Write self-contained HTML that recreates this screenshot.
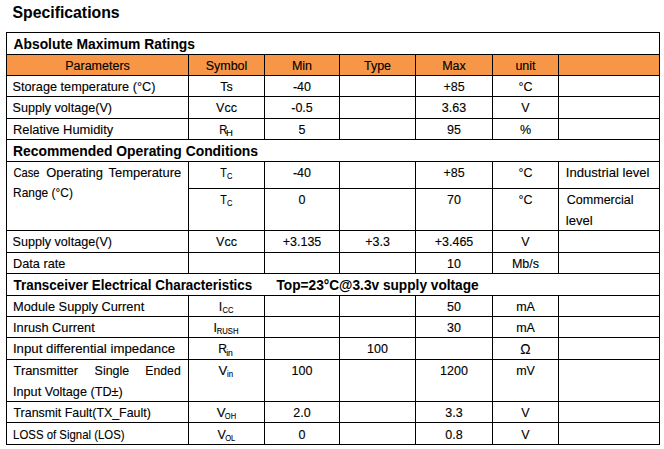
<!DOCTYPE html><html><head><meta charset="utf-8"><style>html,body{margin:0;padding:0;background:#fff;width:664px;height:449px;overflow:hidden}svg{display:block}text{font-family:"Liberation Sans",sans-serif;fill:#000}</style></head><body>
<svg width="664" height="449" viewBox="0 0 664 449">
<rect x="6" y="54" width="654" height="21" fill="#F79646"/>
<rect x="6" y="32" width="654" height="1" fill="#000"/>
<rect x="6" y="54" width="654" height="1" fill="#000"/>
<rect x="6" y="75" width="654" height="1" fill="#000"/>
<rect x="6" y="96" width="654" height="1" fill="#000"/>
<rect x="6" y="118" width="654" height="1" fill="#000"/>
<rect x="6" y="139" width="654" height="1" fill="#000"/>
<rect x="6" y="161" width="654" height="1" fill="#000"/>
<rect x="6" y="230" width="654" height="1" fill="#000"/>
<rect x="6" y="252" width="654" height="1" fill="#000"/>
<rect x="6" y="273" width="654" height="1" fill="#000"/>
<rect x="6" y="295" width="654" height="1" fill="#000"/>
<rect x="6" y="316" width="654" height="1" fill="#000"/>
<rect x="6" y="337" width="654" height="1" fill="#000"/>
<rect x="6" y="359" width="654" height="1" fill="#000"/>
<rect x="6" y="401" width="654" height="1" fill="#000"/>
<rect x="6" y="422" width="654" height="1" fill="#000"/>
<rect x="6" y="444" width="654" height="1" fill="#000"/>
<rect x="188" y="188" width="472" height="1" fill="#000"/>
<rect x="6" y="32" width="1" height="413" fill="#000"/>
<rect x="659" y="32" width="1" height="413" fill="#000"/>
<rect x="188" y="54" width="1" height="86" fill="#000"/>
<rect x="264" y="54" width="1" height="86" fill="#000"/>
<rect x="339" y="54" width="1" height="86" fill="#000"/>
<rect x="415" y="54" width="1" height="86" fill="#000"/>
<rect x="492" y="54" width="1" height="86" fill="#000"/>
<rect x="558" y="54" width="1" height="86" fill="#000"/>
<rect x="188" y="161" width="1" height="113" fill="#000"/>
<rect x="264" y="161" width="1" height="113" fill="#000"/>
<rect x="339" y="161" width="1" height="113" fill="#000"/>
<rect x="415" y="161" width="1" height="113" fill="#000"/>
<rect x="492" y="161" width="1" height="113" fill="#000"/>
<rect x="558" y="161" width="1" height="113" fill="#000"/>
<rect x="188" y="295" width="1" height="150" fill="#000"/>
<rect x="264" y="295" width="1" height="150" fill="#000"/>
<rect x="339" y="295" width="1" height="150" fill="#000"/>
<rect x="415" y="295" width="1" height="150" fill="#000"/>
<rect x="492" y="295" width="1" height="150" fill="#000"/>
<rect x="558" y="295" width="1" height="150" fill="#000"/>
<text transform="translate(12.50 18) scale(1.0000 1)" font-size="15.8" font-weight="bold" stroke="#000" stroke-width="0.05" xml:space="preserve">Specifications</text>
<text transform="translate(13.50 49) scale(1.0041 1)" font-size="13.8" font-weight="bold" stroke="#000" stroke-width="0.05" xml:space="preserve">Absolute Maximum Ratings</text>
<text transform="translate(12.48 91) scale(1.0180 1)" font-size="12.5" stroke="#000" stroke-width="0.12" xml:space="preserve">Storage temperature (°C)</text>
<text transform="translate(12.49 112) scale(1.0103 1)" font-size="12.5" stroke="#000" stroke-width="0.12" xml:space="preserve">Supply voltage(V)</text>
<text transform="translate(12.97 134) scale(1.0323 1)" font-size="12.5" stroke="#000" stroke-width="0.12" xml:space="preserve">Relative Humidity</text>
<text transform="translate(219.30 134) scale(0.9000 1)" font-size="12.5" stroke="#000" stroke-width="0.12" xml:space="preserve">R</text>
<text transform="translate(226.02 136) scale(1.0800 1)" font-size="8.8" stroke="#000" stroke-width="0.12" xml:space="preserve">H</text>
<text transform="translate(12.99 156) scale(1.0062 1)" font-size="13.8" font-weight="bold" stroke="#000" stroke-width="0.05" xml:space="preserve">Recommended Operating Conditions</text>
<text transform="translate(13.50 177) scale(0.8931 1)" font-size="12.5" stroke="#000" stroke-width="0.12" xml:space="preserve">Case</text>
<text transform="translate(46.25 177) scale(1.0343 1)" font-size="12.5" stroke="#000" stroke-width="0.12" xml:space="preserve">Operating</text>
<text transform="translate(108.50 177) scale(1.0357 1)" font-size="12.5" stroke="#000" stroke-width="0.12" xml:space="preserve">Temperature</text>
<text transform="translate(13.05 197) scale(0.9549 1)" font-size="12.5" stroke="#000" stroke-width="0.12" xml:space="preserve">Range (°C)</text>
<text transform="translate(220.20 177) scale(0.8625 1)" font-size="12.5" stroke="#000" stroke-width="0.12" xml:space="preserve">T</text>
<text transform="translate(227.10 179) scale(0.8500 1)" font-size="8.8" stroke="#000" stroke-width="0.12" xml:space="preserve">C</text>
<text transform="translate(565.75 177) scale(1.0487 1)" font-size="12.5" stroke="#000" stroke-width="0.12" xml:space="preserve">Industrial level</text>
<text transform="translate(220.20 204) scale(0.8625 1)" font-size="12.5" stroke="#000" stroke-width="0.12" xml:space="preserve">T</text>
<text transform="translate(227.10 206) scale(0.8500 1)" font-size="8.8" stroke="#000" stroke-width="0.12" xml:space="preserve">C</text>
<text transform="translate(566.80 204) scale(1.0030 1)" font-size="12.5" stroke="#000" stroke-width="0.12" xml:space="preserve">Commercial</text>
<text transform="translate(565.75 225) scale(1.0500 1)" font-size="12.5" stroke="#000" stroke-width="0.12" xml:space="preserve">level</text>
<text transform="translate(12.49 246) scale(1.0103 1)" font-size="12.5" stroke="#000" stroke-width="0.12" xml:space="preserve">Supply voltage(V)</text>
<text transform="translate(12.98 268) scale(1.0200 1)" font-size="12.5" stroke="#000" stroke-width="0.12" xml:space="preserve">Data rate</text>
<text transform="translate(13.50 290) scale(0.9731 1)" font-size="13.8" font-weight="bold" stroke="#000" stroke-width="0.05" xml:space="preserve">Transceiver Electrical Characteristics</text>
<text transform="translate(276.50 290) scale(0.9926 1)" font-size="13.8" font-weight="bold" stroke="#000" stroke-width="0.05" xml:space="preserve">Top=23°C@3.3v supply voltage</text>
<text transform="translate(12.97 311) scale(1.0283 1)" font-size="12.5" stroke="#000" stroke-width="0.12" xml:space="preserve">Module Supply Current</text>
<text transform="translate(218.80 311) scale(1.0000 1)" font-size="12.5" stroke="#000" stroke-width="0.12" xml:space="preserve">I</text>
<text transform="translate(222.50 313) scale(0.8583 1)" font-size="8.8" stroke="#000" stroke-width="0.12" xml:space="preserve">CC</text>
<text transform="translate(12.97 332) scale(1.0253 1)" font-size="12.5" stroke="#000" stroke-width="0.12" xml:space="preserve">Inrush Current</text>
<text transform="translate(213.50 332) scale(1.0000 1)" font-size="12.5" stroke="#000" stroke-width="0.12" xml:space="preserve">I</text>
<text transform="translate(216.73 334) scale(0.8739 1)" font-size="8.8" stroke="#000" stroke-width="0.12" xml:space="preserve">RUSH</text>
<text transform="translate(12.94 353) scale(1.0592 1)" font-size="12.5" stroke="#000" stroke-width="0.12" xml:space="preserve">Input differential impedance</text>
<text transform="translate(218.23 353) scale(0.9714 1)" font-size="12.5" stroke="#000" stroke-width="0.12" xml:space="preserve">R</text>
<text transform="translate(226.20 356) scale(0.9714 1)" font-size="8.8" stroke="#000" stroke-width="0.12" xml:space="preserve">in</text>
<text transform="translate(13.50 375) scale(1.0317 1)" font-size="12.5" stroke="#000" stroke-width="0.12" xml:space="preserve">Transmitter</text>
<text transform="translate(94.60 375) scale(0.9970 1)" font-size="12.5" stroke="#000" stroke-width="0.12" xml:space="preserve">Single</text>
<text transform="translate(145.27 375) scale(0.9814 1)" font-size="12.5" stroke="#000" stroke-width="0.12" xml:space="preserve">Ended</text>
<text transform="translate(218.50 375) scale(1.0625 1)" font-size="12.5" stroke="#000" stroke-width="0.12" xml:space="preserve">V</text>
<text transform="translate(227.00 377) scale(0.8857 1)" font-size="8.8" stroke="#000" stroke-width="0.12" xml:space="preserve">in</text>
<text transform="translate(12.99 396) scale(1.0140 1)" font-size="12.5" stroke="#000" stroke-width="0.12" xml:space="preserve">Input Voltage (TD±)</text>
<text transform="translate(13.50 417) scale(0.9935 1)" font-size="12.5" stroke="#000" stroke-width="0.12" xml:space="preserve">Transmit Fault(TX_Fault)</text>
<text transform="translate(216.70 417) scale(1.0625 1)" font-size="12.5" stroke="#000" stroke-width="0.12" xml:space="preserve">V</text>
<text transform="translate(224.80 419) scale(0.8538 1)" font-size="8.8" stroke="#000" stroke-width="0.12" xml:space="preserve">OH</text>
<text transform="translate(13.09 439) scale(0.9124 1)" font-size="12.5" stroke="#000" stroke-width="0.12" xml:space="preserve">LOSS of Signal (LOS)</text>
<text transform="translate(217.60 439) scale(1.0000 1)" font-size="12.5" stroke="#000" stroke-width="0.12" xml:space="preserve">V</text>
<text transform="translate(225.20 441) scale(0.8583 1)" font-size="8.8" stroke="#000" stroke-width="0.12" xml:space="preserve">OL</text>
<text x="97.5" y="70" font-size="12.5" text-anchor="middle" stroke="#000" stroke-width="0.12">Parameters</text>
<text x="226.5" y="70" font-size="12.5" text-anchor="middle" stroke="#000" stroke-width="0.12">Symbol</text>
<text x="302.0" y="70" font-size="12.5" text-anchor="middle" stroke="#000" stroke-width="0.12">Min</text>
<text x="377.5" y="70" font-size="12.5" text-anchor="middle" stroke="#000" stroke-width="0.12">Type</text>
<text x="454.0" y="70" font-size="12.5" text-anchor="middle" stroke="#000" stroke-width="0.12">Max</text>
<text x="525.5" y="70" font-size="12.5" text-anchor="middle" stroke="#000" stroke-width="0.12">unit</text>
<text x="226.5" y="91" font-size="12.5" text-anchor="middle" stroke="#000" stroke-width="0.12">Ts</text>
<text x="302.0" y="91" font-size="12.5" text-anchor="middle" stroke="#000" stroke-width="0.12">-40</text>
<text x="454.0" y="91" font-size="12.5" text-anchor="middle" stroke="#000" stroke-width="0.12">+85</text>
<text x="525.5" y="91" font-size="12.5" text-anchor="middle" stroke="#000" stroke-width="0.12">°C</text>
<text x="226.5" y="112" font-size="12.5" text-anchor="middle" stroke="#000" stroke-width="0.12">Vcc</text>
<text x="302.0" y="112" font-size="12.5" text-anchor="middle" stroke="#000" stroke-width="0.12">-0.5</text>
<text x="454.0" y="112" font-size="12.5" text-anchor="middle" stroke="#000" stroke-width="0.12">3.63</text>
<text x="525.5" y="112" font-size="12.5" text-anchor="middle" stroke="#000" stroke-width="0.12">V</text>
<text x="302.0" y="134" font-size="12.5" text-anchor="middle" stroke="#000" stroke-width="0.12">5</text>
<text x="454.0" y="134" font-size="12.5" text-anchor="middle" stroke="#000" stroke-width="0.12">95</text>
<text x="525.5" y="134" font-size="12.5" text-anchor="middle" stroke="#000" stroke-width="0.12">%</text>
<text x="302.0" y="177" font-size="12.5" text-anchor="middle" stroke="#000" stroke-width="0.12">-40</text>
<text x="454.0" y="177" font-size="12.5" text-anchor="middle" stroke="#000" stroke-width="0.12">+85</text>
<text x="525.5" y="177" font-size="12.5" text-anchor="middle" stroke="#000" stroke-width="0.12">°C</text>
<text x="302.0" y="204" font-size="12.5" text-anchor="middle" stroke="#000" stroke-width="0.12">0</text>
<text x="454.0" y="204" font-size="12.5" text-anchor="middle" stroke="#000" stroke-width="0.12">70</text>
<text x="525.5" y="204" font-size="12.5" text-anchor="middle" stroke="#000" stroke-width="0.12">°C</text>
<text x="226.5" y="246" font-size="12.5" text-anchor="middle" stroke="#000" stroke-width="0.12">Vcc</text>
<text x="302.0" y="246" font-size="12.5" text-anchor="middle" stroke="#000" stroke-width="0.12">+3.135</text>
<text x="377.5" y="246" font-size="12.5" text-anchor="middle" stroke="#000" stroke-width="0.12">+3.3</text>
<text x="454.0" y="246" font-size="12.5" text-anchor="middle" stroke="#000" stroke-width="0.12">+3.465</text>
<text x="525.5" y="246" font-size="12.5" text-anchor="middle" stroke="#000" stroke-width="0.12">V</text>
<text x="454.0" y="268" font-size="12.5" text-anchor="middle" stroke="#000" stroke-width="0.12">10</text>
<text x="525.5" y="268" font-size="12.5" text-anchor="middle" stroke="#000" stroke-width="0.12">Mb/s</text>
<text x="454.0" y="311" font-size="12.5" text-anchor="middle" stroke="#000" stroke-width="0.12">50</text>
<text x="525.5" y="311" font-size="12.5" text-anchor="middle" stroke="#000" stroke-width="0.12">mA</text>
<text x="454.0" y="332" font-size="12.5" text-anchor="middle" stroke="#000" stroke-width="0.12">30</text>
<text x="525.5" y="332" font-size="12.5" text-anchor="middle" stroke="#000" stroke-width="0.12">mA</text>
<text x="377.5" y="353" font-size="12.5" text-anchor="middle" stroke="#000" stroke-width="0.12">100</text>
<text x="525.5" y="353.5" font-size="13.8" text-anchor="middle" stroke="#000" stroke-width="0.12">Ω</text>
<text x="302.0" y="375" font-size="12.5" text-anchor="middle" stroke="#000" stroke-width="0.12">100</text>
<text x="454.0" y="375" font-size="12.5" text-anchor="middle" stroke="#000" stroke-width="0.12">1200</text>
<text x="525.5" y="375" font-size="12.5" text-anchor="middle" stroke="#000" stroke-width="0.12">mV</text>
<text x="302.0" y="417" font-size="12.5" text-anchor="middle" stroke="#000" stroke-width="0.12">2.0</text>
<text x="454.0" y="417" font-size="12.5" text-anchor="middle" stroke="#000" stroke-width="0.12">3.3</text>
<text x="525.5" y="417" font-size="12.5" text-anchor="middle" stroke="#000" stroke-width="0.12">V</text>
<text x="302.0" y="439" font-size="12.5" text-anchor="middle" stroke="#000" stroke-width="0.12">0</text>
<text x="454.0" y="439" font-size="12.5" text-anchor="middle" stroke="#000" stroke-width="0.12">0.8</text>
<text x="525.5" y="439" font-size="12.5" text-anchor="middle" stroke="#000" stroke-width="0.12">V</text>
</svg></body></html>
